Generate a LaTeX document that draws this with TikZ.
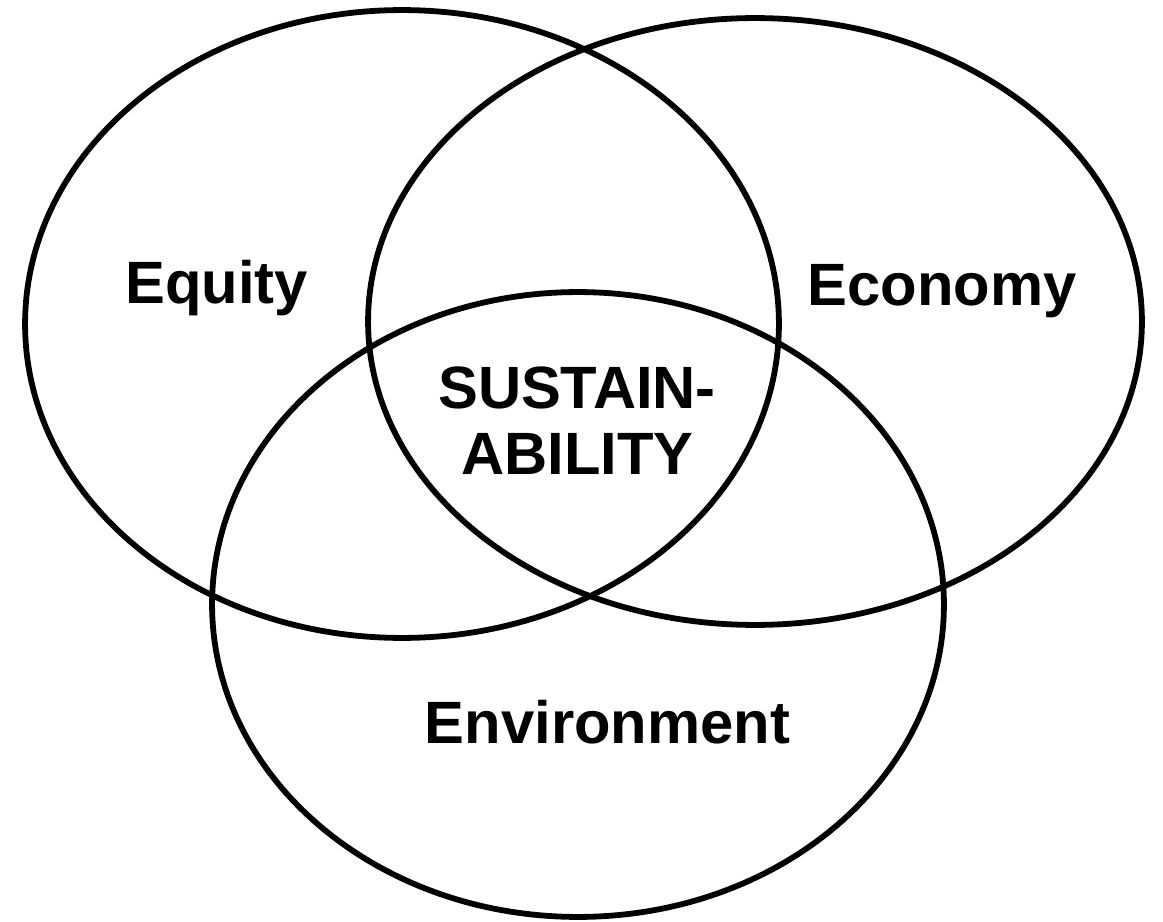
\documentclass[tikz,border=0pt]{standalone}
\usepackage{fontspec}
\setmainfont{Liberation Sans}
\usetikzlibrary{shapes.geometric}
\begin{document}
\begin{tikzpicture}[x=0.02cm,y=-0.02cm,
  ring/.style={draw=black,line width=3.3pt,ellipse,inner sep=0pt,fill=none},
  lbl/.style={anchor=base,inner sep=0pt,font=\fontsize{34}{41}\selectfont\bfseries}]
\useasboundingbox[fill=white] (0,0) rectangle (1163,922);
\node[ring,minimum width=15.08cm,minimum height=12.56cm] (equityE) at (402,324) {};
\node[ring,minimum width=15.48cm,minimum height=12.14cm] (economyE) at (755,321.5) {};
\node[ring,minimum width=14.64cm,minimum height=12.5cm] (envE) at (578,604.5) {};
\node[lbl] (equity) at (216.5,303) {Equity};
\node[lbl] (economy) at (942,305) {Economy};
\node[lbl] (sus1) at (577,408) {SUSTAIN-};
\node[lbl] (sus2) at (577.5,474) {ABILITY};
\node[lbl] (env) at (607.5,743) {Environment};
\end{tikzpicture}
\end{document}
